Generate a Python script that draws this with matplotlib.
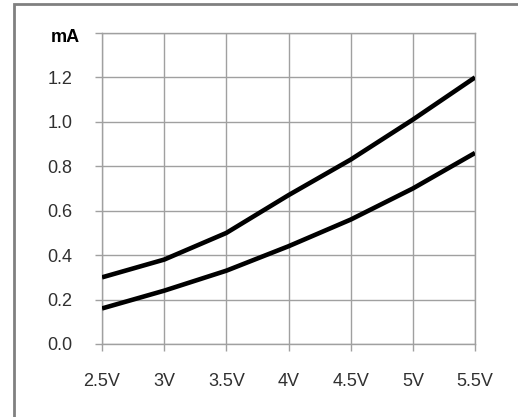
import numpy as np
import matplotlib
matplotlib.use('Agg')
import matplotlib.pyplot as plt
from matplotlib.patches import Rectangle

plt.rcParams['font.family'] = ['Liberation Sans', 'DejaVu Sans']

# данные с графика
voltage = [2.5, 3.0, 3.5, 4.0, 4.5, 5.0, 5.5]
x_labels = ['2.5V', '3V', '3.5V', '4V', '4.5V', '5V', '5.5V']
current_upper = [0.30, 0.38, 0.50, 0.67, 0.83, 1.01, 1.20]
current_lower = [0.16, 0.24, 0.33, 0.44, 0.56, 0.70, 0.86]
y_ticks = [0.0, 0.2, 0.4, 0.6, 0.8, 1.0, 1.2, 1.4]
y_labels = ['0.0', '0.2', '0.4', '0.6', '0.8', '1.0', '1.2', '']

fig = plt.figure(figsize=(5.18, 4.17), dpi=100)
fig.patch.set_facecolor('white')

# внешняя рамка (видны только верх и левый край)
fig.patches.append(Rectangle((14 / 518, -0.1), 1.2, 1 - 4 / 417 + 0.1,
                             transform=fig.transFigure, fill=False,
                             edgecolor='#808080', linewidth=2))

ax = fig.add_axes([102 / 518, 1 - 344 / 417, (475 - 102) / 518, (344 - 33) / 417])

grey = '#a0a0a0'
ax.plot(voltage, current_upper, color='black', linewidth=3.3, solid_capstyle='butt', zorder=3)
ax.plot(voltage, current_lower, color='black', linewidth=3.3, solid_capstyle='butt', zorder=3)

ax.set_xlim(2.5, 5.5)
ax.set_ylim(0, 1.4)
ax.set_xticks(voltage)
ax.set_xticklabels(x_labels)
ax.set_yticks(y_ticks)
ax.set_yticklabels(y_labels)

ax.grid(True, color=grey, linewidth=1.0)
for s in ax.spines.values():
    s.set_color(grey)
    s.set_linewidth(1.0)
ax.tick_params(axis='both', color=grey, length=5, width=1.0, labelsize=13, labelcolor='#303030')
ax.tick_params(axis='y', pad=16.5)
ax.tick_params(axis='x', pad=16)

ax.text(80 / 518, 1 - 38 / 417, 'mA', transform=fig.transFigure, ha='right', va='center',
        fontsize=13, fontweight='bold', color='black')

fig.savefig('out.png', dpi=100)
